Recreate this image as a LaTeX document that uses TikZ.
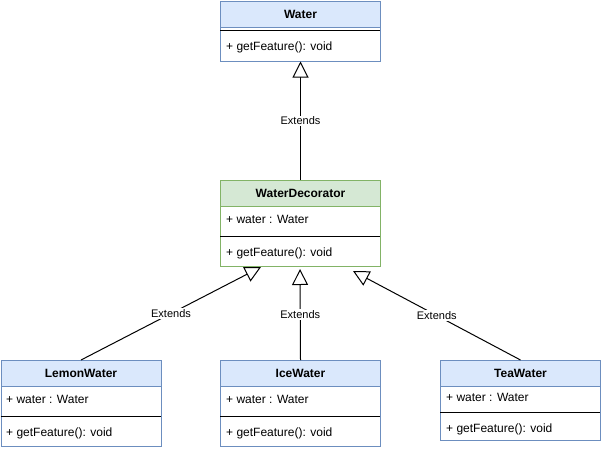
\documentclass[tikz,border=0pt]{standalone}
\usepackage{fontspec}
\setmainfont{Liberation Sans}
\usetikzlibrary{arrows.meta}
\definecolor{bfill}{HTML}{DAE8FC}
\definecolor{bline}{HTML}{6C8EBF}
\definecolor{gfill}{HTML}{D5E8D4}
\definecolor{gline}{HTML}{82B366}
\tikzset{
  outer/.style={draw=#1, line width=1pt, fill=white, minimum width=160pt, inner sep=0pt, anchor=north west},
  hdr/.style={draw=#1, line width=1pt, minimum width=160pt, minimum height=26pt, inner sep=0pt, anchor=north west, font=\fontsize{12pt}{14pt}\selectfont\bfseries},
  txt/.style={anchor=west, inner sep=0pt, font=\fontsize{12pt}{14pt}\selectfont},
  sepline/.style={line width=1pt, black},
  ext/.style={line width=1pt, -{Triangle[open, length=16pt, width=16pt, fill=white]}},
  lbl/.style={fill=white, inner sep=1pt, font=\fontsize{11pt}{13pt}\selectfont}
}
\begin{document}
\begin{tikzpicture}[x=1pt, y=-1pt]
\useasboundingbox (0,0) rectangle (601,450);
% Water
\node[outer=bline, minimum height=60pt] (water) at (220,0.5) {};
\node[hdr=bline, fill=bfill] (waterh) at (220,0.5) {Water};
\draw[sepline] (220,30) -- (380,30);
\node[txt] (waterm) at (226,47) {+ getFeature(): void};
% WaterDecorator
\node[outer=gline, minimum height=86pt] (wd) at (220,180) {};
\node[hdr=gline, fill=gfill] (wdh) at (220,180) {WaterDecorator};
\node[txt] (wda) at (226,219) {+ water : Water};
\draw[sepline] (220,236) -- (380,236);
\node[txt] (wdm) at (226,253) {+ getFeature(): void};
% LemonWater
\node[outer=bline, minimum height=86pt] (lemon) at (0.5,360) {};
\node[hdr=bline, fill=bfill] (lemonh) at (0.5,360) {LemonWater};
\node[txt] (lemona) at (6,399) {+ water : Water};
\draw[sepline] (0.5,416) -- (160.5,416);
\node[txt] (lemonm) at (6,433) {+ getFeature(): void};
% IceWater
\node[outer=bline, minimum height=86pt] (ice) at (220,360) {};
\node[hdr=bline, fill=bfill] (iceh) at (220,360) {IceWater};
\node[txt] (icea) at (226,399) {+ water : Water};
\draw[sepline] (220,416) -- (380,416);
\node[txt] (icem) at (226,433) {+ getFeature(): void};
% TeaWater
\node[outer=bline, minimum height=80pt] (tea) at (440,360) {};
\node[hdr=bline, fill=bfill] (teah) at (440,360) {TeaWater};
\node[txt] (teaa) at (446,397) {+ water : Water};
\draw[sepline] (440,412) -- (600,412);
\node[txt] (team) at (446,429) {+ getFeature(): void};
% connectors
\coordinate (tipL) at (261,267);
\coordinate (tipM) at (300,269);
\coordinate (tipR) at (353,271);
\draw[ext] (wd.north) -- (water.south) node[midway, lbl] (e0) {Extends};
\draw[ext] (lemon.north) -- (tipL) node[midway, lbl] (e1) {Extends};
\draw[ext] (ice.north) -- (tipM) node[midway, lbl] (e2) {Extends};
\draw[ext] (tea.north) -- (tipR) node[midway, lbl] (e3) {Extends};
\end{tikzpicture}
\end{document}
